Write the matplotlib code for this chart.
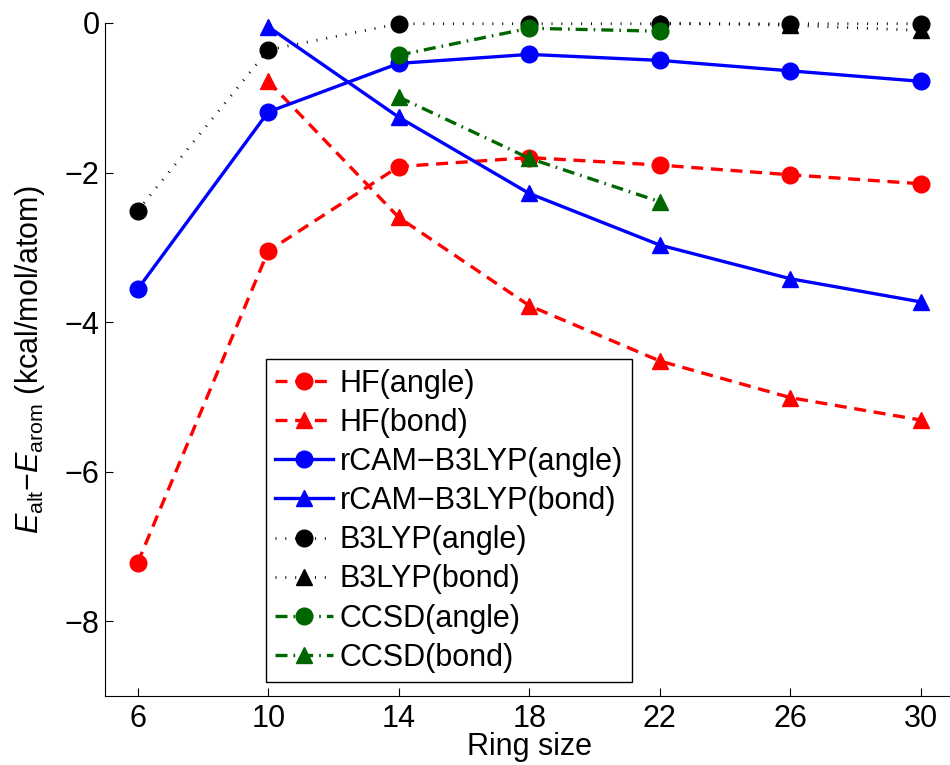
import matplotlib
matplotlib.use('Agg')
import matplotlib.pyplot as plt
import numpy as np

plt.rcParams['font.family'] = ['Liberation Sans', 'DejaVu Sans']
plt.rcParams['mathtext.fontset'] = 'custom'
plt.rcParams['mathtext.rm'] = 'Liberation Sans'
plt.rcParams['mathtext.it'] = 'Liberation Sans:italic'

# datos
ring = [6, 10, 14, 18, 22, 26, 30]

hf_angle = [-7.22, -3.05, -1.92, -1.80, -1.90, -2.03, -2.15]
hf_bond_x = [10, 14, 18, 22, 26, 30]
hf_bond = [-0.78, -2.60, -3.78, -4.52, -5.01, -5.31]

cam_angle = [-3.56, -1.19, -0.54, -0.42, -0.50, -0.64, -0.78]
cam_bond_x = [10, 14, 18, 22, 26, 30]
cam_bond = [-0.05, -1.26, -2.28, -2.97, -3.42, -3.73]

b3_angle = [-2.51, -0.36, -0.01, -0.01, -0.01, -0.01, -0.01]
b3_bond_x = [22, 26, 30]
b3_bond = [0.0, -0.03, -0.10]

cc_angle_x = [14, 18, 22]
cc_angle = [-0.43, -0.07, -0.11]
cc_bond_x = [14, 18, 22]
cc_bond = [-0.99, -1.81, -2.39]

verde = (0, 0.4, 0)
lw = 2.4
ms = 12
fs = 22
guion = (0, (3.6, 2.3))
punteado = (0, (0.35, 3.2))
guionpunto = (0, (3.6, 1.8, 0.5, 1.8))

fig = plt.figure(figsize=(9.5, 7.65), dpi=100)
ax = fig.add_axes([105/950, 69/765, 848.6/950, 673/765])

ax.plot(ring, hf_angle, color='r', ls=guion, lw=lw, marker='o', ms=ms, clip_on=False, label='HF(angle)')
ax.plot(hf_bond_x, hf_bond, color='r', ls=guion, lw=lw, marker='^', ms=ms, clip_on=False, label='HF(bond)')
ax.plot(ring, cam_angle, color='b', ls='-', lw=lw, marker='o', ms=ms, clip_on=False, label='rCAM\u2212B3LYP(angle)')
ax.plot(cam_bond_x, cam_bond, color='b', ls='-', lw=lw, marker='^', ms=ms, clip_on=False, label='rCAM\u2212B3LYP(bond)')
ax.plot(ring, b3_angle, color='k', ls=punteado, lw=2.0, marker='o', ms=ms, clip_on=False, label='B3LYP(angle)')
ax.plot(b3_bond_x, b3_bond, color='k', ls=punteado, lw=2.0, marker='^', ms=ms, clip_on=False, label='B3LYP(bond)')
ax.plot(cc_angle_x, cc_angle, color=verde, ls=guionpunto, lw=lw, marker='o', ms=ms, clip_on=False, label='CCSD(angle)')
ax.plot(cc_bond_x, cc_bond, color=verde, ls=guionpunto, lw=lw, marker='^', ms=ms, clip_on=False, label='CCSD(bond)')

ax.set_xlim(5, 31)
ax.set_ylim(-9, 0)
ax.set_xticks(ring)
ax.set_yticks([0, -2, -4, -6, -8])
ax.spines['top'].set_visible(False)
ax.spines['right'].set_visible(False)
ax.tick_params(direction='in', length=6, width=0.8, labelsize=fs, pad=4)
ax.tick_params(axis='x', pad=6)

ax.set_xlabel('Ring size', fontsize=fs, labelpad=-2)
ax.set_ylabel(r'$E_{\rm alt}$$-$$E_{\rm arom}$ (kcal/mol/atom)', fontsize=fs, labelpad=13)

leg = ax.legend(loc='lower left', bbox_to_anchor=(0.19, 0.021), borderaxespad=0,
                fontsize=fs, fancybox=False, edgecolor='k', framealpha=1,
                handlelength=1.9, handletextpad=0.2, labelspacing=0.3,
                borderpad=0.3, numpoints=1)
leg.get_frame().set_linewidth(1.0)

fig.savefig('out.png', dpi=100)
